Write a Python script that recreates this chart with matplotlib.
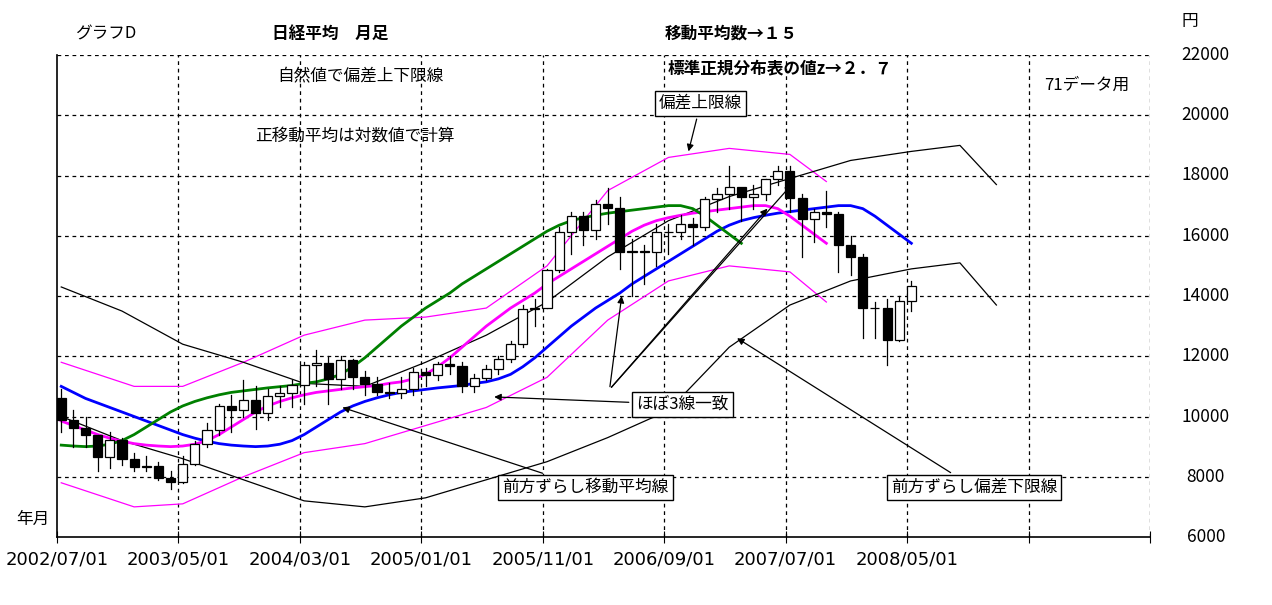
import matplotlib
matplotlib.use("Agg")
import matplotlib.pyplot as plt
from matplotlib.patches import Rectangle
import numpy as np

FONT = "Noto Sans CJK JP"
plt.rcParams["font.family"] = FONT

# Monthly candles 2002/07 .. 2008/05
opens = [10600, 9877, 9619, 9383, 8640, 9216, 8579, 8340, 8363, 7973, 7831, 8425,
         9083, 9563, 10343, 10219, 10560, 10101, 10677, 10784, 11042, 11715, 11762, 11237,
         11859, 11326, 11082, 10824, 10771, 10899, 11489, 11388, 11741, 11669, 11009, 11277,
         11584, 11900, 12414, 13574, 13607, 14872, 16111, 16650, 16205, 17060, 16906, 15467,
         15505, 15457, 16141, 16128, 16399, 16274, 17226, 17383, 17604, 17288, 17400, 17876,
         18138, 17249, 16569, 16786, 16738, 15681, 15308, 13592, 13603, 12526, 13850]
closes = [9877, 9619, 9383, 8640, 9216, 8579, 8340, 8363, 7973, 7831, 8425, 9083,
          9563, 10343, 10219, 10560, 10101, 10677, 10784, 11042, 11715, 11762, 11237, 11859,
          11326, 11082, 10824, 10771, 10899, 11489, 11388, 11741, 11669, 11009, 11277, 11584,
          11900, 12414, 13574, 13607, 14872, 16111, 16650, 16205, 17060, 16906, 15467, 15505,
          15457, 16141, 16128, 16399, 16274, 17226, 17383, 17604, 17288, 17400, 17876, 18138,
          17249, 16569, 16786, 16738, 15681, 15308, 13592, 13603, 12526, 13850, 14338]
highs = [10900, 10200, 10000, 9400, 9500, 9300, 8800, 8700, 8500, 8200, 8700, 9200,
         9800, 10400, 10700, 11200, 11000, 10900, 11000, 11200, 11800, 12200, 12000, 12000,
         11900, 11500, 11300, 11100, 11300, 11600, 11600, 11800, 12000, 11800, 11400, 11700,
         12000, 12500, 13700, 13900, 14900, 16300, 16800, 16800, 17200, 17600, 17300, 15900,
         15700, 16400, 16400, 16700, 16600, 17300, 17600, 18300, 17600, 17700, 17900, 18300,
         18300, 17400, 16900, 17500, 16800, 16000, 15400, 13800, 13900, 14000, 14500]
lows = [9500, 9000, 9000, 8200, 8300, 8400, 8200, 8200, 7900, 7600, 7800, 8400,
        9000, 9400, 9500, 10000, 9600, 9900, 10300, 10300, 10400, 11000, 10400, 10900,
        10900, 10700, 10700, 10600, 10600, 10700, 11000, 11200, 11400, 10800, 10800, 11200,
        11400, 11800, 12300, 13000, 13600, 14800, 15400, 15700, 15900, 16400, 14900, 14000,
        14400, 15000, 15400, 15900, 15700, 16200, 16800, 16900, 16500, 16900, 17200, 17700,
        16800, 15300, 15800, 16300, 14800, 14700, 12600, 12600, 11700, 12500, 13500]

# 15-month (log) moving average, trailing, months 0..70
ma = [11000, 10800, 10600, 10450, 10300, 10150, 10000, 9850, 9700, 9550, 9400, 9280,
      9180, 9100, 9050, 9020, 9000, 9020, 9080, 9200, 9400, 9650, 9900, 10150, 10350,
      10500, 10620, 10720, 10800, 10850, 10900, 10950, 10990, 11030, 11100, 11150, 11250,
      11400, 11650, 11950, 12300, 12650, 13000, 13300, 13600, 13850, 14100, 14400, 14650,
      14900, 15150, 15400, 15650, 15900, 16150, 16350, 16500, 16600, 16680, 16750, 16800,
      16850, 16900, 16950, 17000, 17000, 16900, 16650, 16350, 16050, 15750]

# Deviation bands
band_m = [0, 6, 10, 15, 20, 25, 30, 35, 40, 45, 50, 55, 60, 63]
mag_upper = [11800, 11000, 11000, 11800, 12700, 13200, 13300, 13600, 15000, 17500, 18600, 18900, 18700, 17800]
mag_lower = [7800, 7000, 7100, 8000, 8800, 9100, 9700, 10300, 11300, 13200, 14500, 15000, 14800, 13800]
blk_m = [0, 5, 10, 15, 20, 25, 30, 35, 40, 45, 50, 55, 60, 65, 70, 74, 77]
blk_upper = [14300, 13500, 12400, 11800, 11100, 11000, 11800, 12700, 13800, 15300, 16500, 17300, 17900, 18500, 18800, 19000, 17700]
blk_lower = [10000, 9200, 8600, 7900, 7200, 7000, 7300, 7900, 8500, 9300, 10200, 12300, 13700, 14500, 14900, 15100, 13700]

xtick_labels = ["2002/07/01", "2003/05/01", "2004/03/01", "2005/01/01", "2005/11/01",
                "2006/09/01", "2007/07/01", "2008/05/01"]
yticks = [6000, 8000, 10000, 12000, 14000, 16000, 18000, 20000, 22000]

fig = plt.figure(figsize=(12.72, 6.05), dpi=100)
ax = fig.add_axes([57/1272, 68/605, (1150-57)/1272, (537-55)/605])
ax.set_xlim(0, 90)
ax.set_ylim(6000, 22000)
off = 0.35
for v in yticks[1:]:
    ax.axhline(v, color="black", lw=0.9, ls=(0, (3, 3)), zorder=0)
for k in range(1, 10):
    ax.axvline(k*10, color="black", lw=0.9, ls=(0, (3, 3)), zorder=0)

m = np.arange(len(ma))
ax.plot(m + off, ma, color="blue", lw=2, zorder=3)
ax.plot(m[7:] - 7 + off, ma[7:], color="magenta", lw=2, zorder=3)
ax.plot(m[14:] - 14 + off, ma[14:], color="green", lw=2, zorder=3)
ax.plot(np.array(band_m) + off, mag_upper, color="magenta", lw=0.9, zorder=2)
ax.plot(np.array(band_m) + off, mag_lower, color="magenta", lw=0.9, zorder=2)
ax.plot(np.array(blk_m) + off, blk_upper, color="black", lw=0.9, zorder=2)
ax.plot(np.array(blk_m) + off, blk_lower, color="black", lw=0.9, zorder=2)

w = 0.75
for i in range(len(closes)):
    x = i + off
    o, c, h, l = opens[i], closes[i], highs[i], lows[i]
    ax.plot([x, x], [l, h], color="black", lw=0.9, zorder=4)
    fc = "white" if c >= o else "black"
    ax.add_patch(Rectangle((x - w/2, min(o, c)), w, abs(c - o), facecolor=fc,
                           edgecolor="black", lw=0.9, zorder=5))

for s in ["top", "right"]:
    ax.spines[s].set_visible(False)
ax.spines["left"].set_linewidth(1.2)
ax.spines["bottom"].set_linewidth(1.2)
ax.set_xticks([k*10 for k in range(10)])
ax.set_xticklabels([])
ax.tick_params(axis="x", direction="inout", length=8)
ax.set_yticks([])
for k, lab in enumerate(xtick_labels):
    ax.text(k*10, 5250, lab, ha="center", va="center", fontsize=13, fontfamily="DejaVu Sans")
for v in yticks:
    ax.text(94.6, v, str(v), ha="center", va="center", fontsize=12.5)
ax.text(93.3, 23100, "円", ha="center", va="center", fontsize=12)
ax.text(-2.0, 6600, "年月", ha="center", va="center", fontsize=12)

ax.text(4, 22700, "グラフD", ha="center", va="center", fontsize=12)
ax.text(22.5, 22700, "日経平均　月足", ha="center", va="center", fontsize=12, fontweight="bold")
ax.text(55.5, 22700, "移動平均数→１５", ha="center", va="center", fontsize=12, fontweight="bold")
ax.text(59.5, 21550, "標準正規分布表の値z→２．７", ha="center", va="center", fontsize=12, fontweight="bold")
ax.text(25, 21300, "自然値で偏差上下限線", ha="center", va="center", fontsize=12)
ax.text(24.5, 19300, "正移動平均は対数値で計算", ha="center", va="center", fontsize=12)
ax.text(84.8, 21000, "71データ用", ha="center", va="center", fontsize=12)

box = dict(boxstyle="square,pad=0.25", fc="white", ec="black", lw=1)
arr = dict(arrowstyle="-|>", color="black", lw=0.9, mutation_scale=10, shrinkB=0)
ax.annotate("偏差上限線", xy=(52, 18800), xytext=(53, 20400), ha="center", va="center",
            fontsize=12, bbox=box, arrowprops=arr)
ax.annotate("前方ずらし移動平均線", xy=(23.5, 10300), xytext=(43.5, 7650), ha="center", va="center",
            fontsize=12, bbox=box, arrowprops=arr)
ax.annotate("前方ずらし偏差下限線", xy=(56, 12600), xytext=(75.5, 7650), ha="center", va="center",
            fontsize=12, bbox=box, arrowprops=arr)
ax.annotate("ほぼ3線一致", xy=(36, 10650), xytext=(51.5, 10400), ha="center", va="center",
            fontsize=12, bbox=box, arrowprops=arr)
for tgt in [(46.5, 14000), (58.5, 16900), (60.5, 17700)]:
    ax.annotate("", xy=tgt, xytext=(45.5, 10900), arrowprops=arr)

fig.savefig("out.png", dpi=100, facecolor="white")
